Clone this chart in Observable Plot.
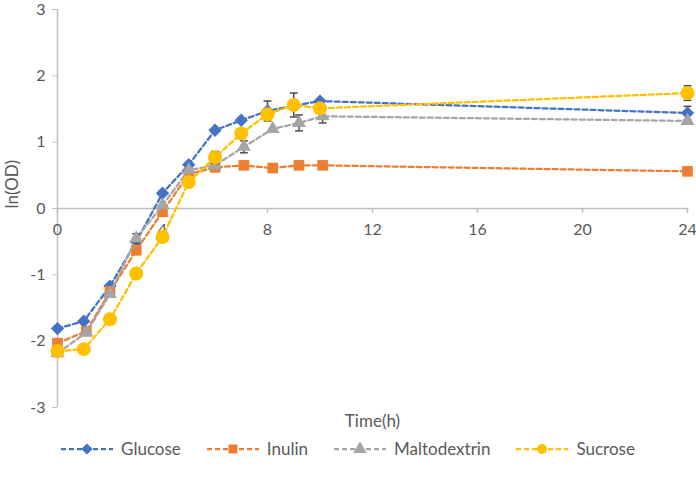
<!DOCTYPE html>
<html>
<head>
<meta charset="utf-8">
<script src="https://cdn.jsdelivr.net/npm/d3@7"></script>
<script src="https://cdn.jsdelivr.net/npm/@observablehq/plot@0.6"></script>
<style>
  html, body { margin: 0; padding: 0; background: #fff; }
  body { width: 696px; height: 483px; overflow: hidden; font-family: Lato, "Open Sans", sans-serif; }
  #legend { display: flex; justify-content: center; align-items: center; gap: 26px; margin-top: 1px; font-size: 17px; color: #595959; }
  .item { display: flex; align-items: center; gap: 8px; }
</style>
</head>
<body>
<div id="chart"></div>
<div id="legend"></div>
<script>
// ---- data ----
const seriesNames = ["Glucose", "Inulin", "Maltodextrin", "Sucrose"];
const seriesColors = ["#4472C4", "#ED7D31", "#A5A5A5", "#FFC000"];
const seriesSymbols = ["diamond2", "square", "triangle", "circle"];

const glucoseTime = [0, 1, 2, 3, 4, 5, 6, 7, 8, 9, 10, 24];
const glucoseLnOD = [-1.81, -1.70, -1.17, -0.50, 0.23, 0.66, 1.18, 1.33, 1.47, 1.55, 1.62, 1.44];
const glucoseErr  = [0, 0, 0, 0, 0, 0, 0, 0, 0.15, 0, 0, 0.10];

const inulinTime = [0, 1.1, 2, 3, 4, 5, 6, 7.1, 8.2, 9.2, 10.1, 24];
const inulinLnOD = [-2.03, -1.85, -1.25, -0.63, -0.05, 0.52, 0.62, 0.65, 0.61, 0.65, 0.65, 0.56];
const inulinErr  = [0, 0, 0, 0, 0, 0, 0, 0, 0, 0, 0, 0];

const maltodextrinTime = [0, 1.1, 2, 3, 4, 5, 6, 7.1, 8.2, 9.2, 10.1, 24];
const maltodextrinLnOD = [-2.18, -1.87, -1.29, -0.45, 0.05, 0.58, 0.65, 0.93, 1.20, 1.29, 1.39, 1.32];
const maltodextrinErr  = [0, 0, 0, 0.07, 0, 0, 0, 0.09, 0, 0.12, 0.10, 0];

const sucroseTime = [0, 1, 2, 3, 4, 5, 6, 7, 8, 9, 10, 24];
const sucroseLnOD = [-2.15, -2.12, -1.67, -0.98, -0.43, 0.40, 0.77, 1.13, 1.42, 1.56, 1.51, 1.74];
const sucroseErr  = [0, 0, 0, 0, 0, 0, 0.09, 0, 0, 0.18, 0, 0.11];

const xTicks = [0, 4, 8, 12, 16, 20, 24];
const yTicks = [-3, -2, -1, 0, 1, 2, 3];
const xLabel = "Time(h)";
const yLabel = "ln(OD)";

// ---- build table ----
const seriesData = [
  [glucoseTime, glucoseLnOD, glucoseErr],
  [inulinTime, inulinLnOD, inulinErr],
  [maltodextrinTime, maltodextrinLnOD, maltodextrinErr],
  [sucroseTime, sucroseLnOD, sucroseErr]
];
const rows = [];
seriesData.forEach(([ts, vs, es], i) => {
  ts.forEach((t, j) => rows.push({series: seriesNames[i], t, v: vs[j], e: es[j]}));
});

const axisGray = "#bfbfbf";
const textGray = "#595959";
const marks = [
  Plot.ruleY([0], {stroke: axisGray, strokeWidth: 1.5}),
  Plot.ruleX([0], {y1: yTicks[0], y2: yTicks[yTicks.length - 1], stroke: axisGray, strokeWidth: 1.5}),
  Plot.ruleX(xTicks, {x: d => d, y1: 0, y2: -0.075, stroke: axisGray, strokeWidth: 1.5}),
  Plot.text(xTicks, {x: d => d, y: 0, dy: 21, text: d => String(d), fill: textGray, fontSize: 16}),
  Plot.axisY({ticks: yTicks, tickSize: 5, tickPadding: 7, stroke: axisGray, fill: textGray, fontSize: 16, label: null, tickFormat: d => String(d)}),
  Plot.text([yLabel], {frameAnchor: "left", rotate: -90, dx: -45, fill: textGray, fontSize: 17}),
  Plot.text([xLabel], {frameAnchor: "bottom", dy: 19, fill: textGray, fontSize: 17})
];

seriesNames.forEach((name, i) => {
  const d = rows.filter(r => r.series === name);
  const err = d.filter(r => r.e > 0);
  marks.push(
    Plot.line(d, {x: "t", y: "v", stroke: seriesColors[i], strokeWidth: 2.25, strokeDasharray: "5,3"}),
    Plot.ruleX(err, {x: "t", y1: r => r.v - r.e, y2: r => r.v + r.e, stroke: "#4d4d4d", strokeWidth: 1.5}),
    Plot.link(err, {x1: r => r.t - 0.15, x2: r => r.t + 0.15, y1: r => r.v + r.e, y2: r => r.v + r.e, stroke: "#4d4d4d", strokeWidth: 1.5}),
    Plot.link(err, {x1: r => r.t - 0.15, x2: r => r.t + 0.15, y1: r => r.v - r.e, y2: r => r.v - r.e, stroke: "#4d4d4d", strokeWidth: 1.5}),
    Plot.dot(d, {x: "t", y: "v", symbol: seriesSymbols[i], fill: seriesColors[i], stroke: "none",
      r: seriesSymbols[i] === "circle" ? 7 : seriesSymbols[i] === "triangle" ? 5.2 : 6})
  );
});

const chart = Plot.plot({
  width: 696,
  height: 437,
  marginTop: 9,
  marginBottom: 30,
  marginLeft: 57,
  marginRight: 9,
  x: {domain: [0, 24], axis: null},
  y: {domain: [-3, 3], axis: null},
  style: {fontFamily: "Lato, 'Open Sans', sans-serif", background: "#fff"},
  marks
});
document.getElementById("chart").appendChild(chart);

// ---- legend ----
const legend = d3.select("#legend");
seriesNames.forEach((name, i) => {
  const item = legend.append("div").attr("class", "item");
  const svg = item.append("svg").attr("width", 52).attr("height", 14);
  svg.append("line").attr("x1", 0).attr("x2", 52).attr("y1", 7).attr("y2", 7)
    .attr("stroke", seriesColors[i]).attr("stroke-width", 2.25).attr("stroke-dasharray", "5,3");
  const sym = {diamond2: d3.symbolDiamond2, square: d3.symbolSquare, triangle: d3.symbolTriangle, circle: d3.symbolCircle}[seriesSymbols[i]];
  svg.append("path").attr("transform", "translate(26,7)")
    .attr("d", d3.symbol(sym, 80)()).attr("fill", seriesColors[i]);
  item.append("span").text(name);
});
</script>
</body>
</html>
